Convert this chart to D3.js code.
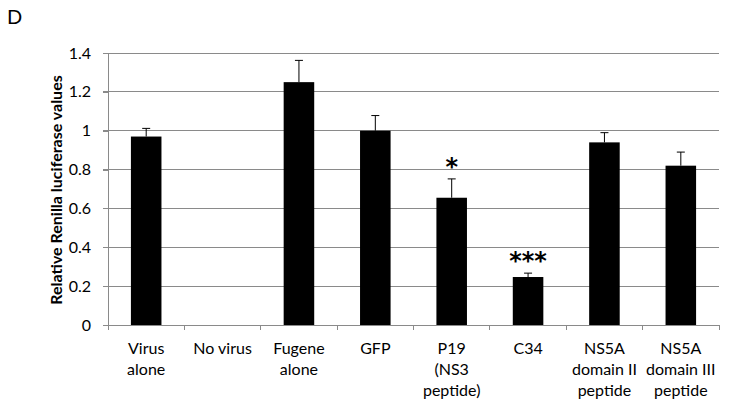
<!DOCTYPE html>
<html><head><meta charset="utf-8">
<script src="https://cdn.jsdelivr.net/npm/d3@7"></script>
<style>
html,body{margin:0;padding:0;background:#fff;}
svg{display:block;}
</style></head>
<body>
<svg id="chart" width="729" height="411"></svg>
<script>
const categories = [
  ["Virus", "alone"],
  ["No virus"],
  ["Fugene", "alone"],
  ["GFP"],
  ["P19", "(NS3", "peptide)"],
  ["C34"],
  ["NS5A", "domain II", "peptide"],
  ["NS5A", "domain III", "peptide"]
];
const values = [0.97, 0, 1.25, 1.0, 0.655, 0.247, 0.94, 0.82];
const errors = [0.042, 0, 0.112, 0.078, 0.097, 0.02, 0.05, 0.07];
const significance = ["", "", "", "", "*", "***", "", ""];
const yTicks = [0, 0.2, 0.4, 0.6, 0.8, 1, 1.2, 1.4];
const yTitle = "Relative Renilla luciferase values";
const panelLabel = "D";

(function () {
const svg = d3.select("#chart");
const mLeft = 108, mRight = 719, mTop = 53, mBottom = 325;
const gridColor = "#8a8a8a";
const font = "Lato, 'Open Sans', sans-serif";

const x = d3.scaleBand().domain(d3.range(categories.length)).range([mLeft, mRight]).paddingInner(0.6).paddingOuter(0.3);
const xTick = d3.scaleLinear().domain([0, categories.length]).range([mLeft, mRight]);
const y = d3.scaleLinear().domain([0, 1.4]).range([mBottom, mTop]);

// gridlines
svg.append("g").selectAll("line").data(yTicks.filter(d => d > 0)).join("line")
  .attr("x1", mLeft - 5).attr("x2", mRight)
  .attr("y1", d => y(d)).attr("y2", d => y(d))
  .attr("stroke", gridColor).attr("stroke-width", 1).attr("shape-rendering", "crispEdges");

// y axis
const yAxis = svg.append("g").attr("transform", `translate(${mLeft},0)`)
  .call(d3.axisLeft(y).tickValues(yTicks).tickFormat(d => String(+d.toFixed(1))).tickSize(5).tickPadding(12));
yAxis.select(".domain").attr("stroke", gridColor).attr("shape-rendering", "crispEdges");
yAxis.selectAll(".tick line").attr("stroke", gridColor).attr("shape-rendering", "crispEdges");
yAxis.selectAll(".tick text").attr("font-family", font).attr("font-size", 16).attr("fill", "#000");

// x axis
svg.append("line").attr("x1", mLeft - 5).attr("x2", mRight).attr("y1", mBottom).attr("y2", mBottom)
  .attr("stroke", gridColor).attr("shape-rendering", "crispEdges");
svg.append("g").selectAll("line").data(d3.range(categories.length + 1)).join("line")
  .attr("x1", d => xTick(d)).attr("x2", d => xTick(d))
  .attr("y1", mBottom).attr("y2", mBottom + 5)
  .attr("stroke", gridColor).attr("shape-rendering", "crispEdges");

// bars
svg.append("g").selectAll("rect").data(values).join("rect")
  .attr("x", (d, i) => x(i)).attr("width", x.bandwidth())
  .attr("y", d => y(d)).attr("height", d => y(0) - y(d))
  .attr("fill", "#000");

// error bars
const eb = svg.append("g");
values.forEach((v, i) => {
  if (v <= 0) return;
  const cx = x(i) + x.bandwidth() / 2;
  eb.append("line").attr("x1", cx).attr("x2", cx).attr("y1", y(v)).attr("y2", y(v + errors[i]))
    .attr("stroke", "#000").attr("stroke-width", 1);
  eb.append("line").attr("x1", cx - 4).attr("x2", cx + 4).attr("y1", y(v + errors[i])).attr("y2", y(v + errors[i]))
    .attr("stroke", "#000").attr("stroke-width", 1);
});

// significance
svg.append("g").selectAll("text").data(significance).join("text")
  .attr("x", (d, i) => x(i) + x.bandwidth() / 2)
  .attr("y", (d, i) => y(values[i] + errors[i]) - 4)
  .attr("text-anchor", "middle")
  .attr("font-family", "'DejaVu Sans', sans-serif").attr("font-weight", "bold").attr("font-size", 24)
  .text(d => d);

// category labels
const lab = svg.append("g");
categories.forEach((lines, i) => {
  const t = lab.append("text").attr("text-anchor", "middle")
    .attr("font-family", font).attr("font-size", 16).attr("fill", "#000");
  lines.forEach((s, j) => {
    t.append("tspan").attr("x", x(i) + x.bandwidth() / 2).attr("y", 354 + j * 21).text(s);
  });
});

// y title
svg.append("text").attr("transform", `translate(62,${(mTop + mBottom) / 2 + 1}) rotate(-90)`)
  .attr("text-anchor", "middle").attr("font-family", font).attr("font-weight", "bold")
  .attr("font-size", 16).attr("fill", "#000").text(yTitle);

// panel label
svg.append("text").attr("x", 7).attr("y", 24).attr("font-family", font).attr("font-size", 20)
  .attr("fill", "#000").text(panelLabel);
})();
</script>
</body></html>
